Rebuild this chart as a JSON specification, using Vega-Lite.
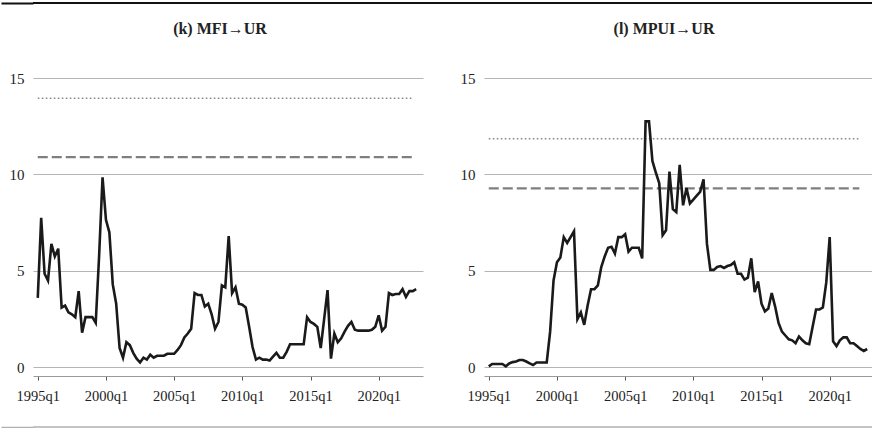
{
  "$schema": "https://vega.github.io/schema/vega-lite/v6.json",
  "background": "white",
  "padding": {"left": 0, "top": 2, "right": 0, "bottom": 0},
  "spacing": 17,
  "config": {
    "font": "Liberation Serif",
    "view": {"stroke": null},
    "title": {"font": "Liberation Serif", "fontSize": 16, "fontWeight": "bold", "color": "#222222", "anchor": "middle", "frame": "group", "baseline": "bottom", "offset": 34},
    "axisX": {"grid": false, "domainColor": "#9a9a9a", "tickColor": "#555555", "tickSize": 4, "labelFontSize": 14.5, "labelPadding": 9, "labelColor": "#222222", "labelOverlap": false, "labelFlush": false, "title": null},
    "axisY": {"grid": true, "gridColor": "#b5b5b5", "domain": false, "ticks": false, "labelPadding": 9, "labelFontSize": 15, "labelColor": "#222222", "title": null}
  },
  "datasets": {
    "series": [
      {"t":0,"k":3.6,"l":0.05},{"t":1,"k":7.75,"l":0.17},{"t":2,"k":4.85,"l":0.17},{"t":3,"k":4.5,"l":0.17},{"t":4,"k":6.4,"l":0.17},
      {"t":5,"k":5.75,"l":0.05},{"t":6,"k":6.15,"l":0.2},{"t":7,"k":3.1,"l":0.27},{"t":8,"k":3.2,"l":0.3},{"t":9,"k":2.85,"l":0.38},
      {"t":10,"k":2.75,"l":0.38},{"t":11,"k":2.6,"l":0.3},{"t":12,"k":3.95,"l":0.2},{"t":13,"k":1.8,"l":0.12},{"t":14,"k":2.6,"l":0.25},
      {"t":15,"k":2.6,"l":0.25},{"t":16,"k":2.6,"l":0.25},{"t":17,"k":2.3,"l":0.25},{"t":18,"k":5.8,"l":1.85},{"t":19,"k":9.85,"l":4.5},
      {"t":20,"k":7.65,"l":5.45},{"t":21,"k":7.0,"l":5.7},{"t":22,"k":4.3,"l":6.75},{"t":23,"k":3.3,"l":6.45},{"t":24,"k":1.0,"l":6.75},
      {"t":25,"k":0.5,"l":7.05},{"t":26,"k":1.3,"l":2.5},{"t":27,"k":1.15,"l":2.85},{"t":28,"k":0.75,"l":2.2},{"t":29,"k":0.45,"l":3.2},
      {"t":30,"k":0.25,"l":4.05},{"t":31,"k":0.5,"l":4.05},{"t":32,"k":0.4,"l":4.25},{"t":33,"k":0.65,"l":5.2},{"t":34,"k":0.5,"l":5.75},
      {"t":35,"k":0.6,"l":6.2},{"t":36,"k":0.6,"l":6.25},{"t":37,"k":0.6,"l":5.9},{"t":38,"k":0.7,"l":6.75},{"t":39,"k":0.7,"l":6.75},
      {"t":40,"k":0.7,"l":6.9},{"t":41,"k":0.9,"l":6.0},{"t":42,"k":1.15,"l":6.2},{"t":43,"k":1.55,"l":6.2},{"t":44,"k":1.75,"l":6.2},
      {"t":45,"k":2.0,"l":5.65},{"t":46,"k":3.85,"l":12.75},{"t":47,"k":3.75,"l":12.75},{"t":48,"k":3.75,"l":10.7},{"t":49,"k":3.15,"l":10.1},
      {"t":50,"k":3.3,"l":9.55},{"t":51,"k":2.75,"l":6.85},{"t":52,"k":2.0,"l":7.1},{"t":53,"k":2.35,"l":10.15},{"t":54,"k":4.25,"l":8.2},
      {"t":55,"k":4.15,"l":8.05},{"t":56,"k":6.8,"l":10.5},{"t":57,"k":3.85,"l":8.4},{"t":58,"k":4.15,"l":9.3},{"t":59,"k":3.3,"l":8.5},
      {"t":60,"k":3.25,"l":8.7},{"t":61,"k":3.1,"l":8.9},{"t":62,"k":2.1,"l":9.1},{"t":63,"k":1.05,"l":9.75},{"t":64,"k":0.4,"l":6.4},
      {"t":65,"k":0.5,"l":5.05},{"t":66,"k":0.4,"l":5.05},{"t":67,"k":0.4,"l":5.2},{"t":68,"k":0.35,"l":5.25},{"t":69,"k":0.55,"l":5.15},
      {"t":70,"k":0.75,"l":5.25},{"t":71,"k":0.5,"l":5.3},{"t":72,"k":0.5,"l":5.45},{"t":73,"k":0.8,"l":4.85},{"t":74,"k":1.2,"l":4.85},
      {"t":75,"k":1.2,"l":4.55},{"t":76,"k":1.2,"l":4.65},{"t":77,"k":1.2,"l":5.65},{"t":78,"k":1.2,"l":3.9},{"t":79,"k":2.6,"l":4.45},
      {"t":80,"k":2.35,"l":3.3},{"t":81,"k":2.25,"l":2.9},{"t":82,"k":2.1,"l":3.05},{"t":83,"k":1.0,"l":3.85},{"t":84,"k":2.5,"l":3.15},
      {"t":85,"k":4.0,"l":2.3},{"t":86,"k":0.45,"l":1.85},{"t":87,"k":1.75,"l":1.65},{"t":88,"k":1.3,"l":1.45},{"t":89,"k":1.5,"l":1.4},
      {"t":90,"k":1.85,"l":1.25},{"t":91,"k":2.15,"l":1.6},{"t":92,"k":2.35,"l":1.4},{"t":93,"k":1.95,"l":1.25},{"t":94,"k":1.9,"l":1.2},
      {"t":95,"k":1.9,"l":2.1},{"t":96,"k":1.9,"l":3.0},{"t":97,"k":1.9,"l":3.0},{"t":98,"k":1.95,"l":3.1},{"t":99,"k":2.1,"l":4.4},
      {"t":100,"k":2.7,"l":6.75},{"t":101,"k":1.9,"l":1.35},{"t":102,"k":2.1,"l":1.1},{"t":103,"k":3.85,"l":1.4},{"t":104,"k":3.75,"l":1.55},
      {"t":105,"k":3.8,"l":1.55},{"t":106,"k":3.8,"l":1.25},{"t":107,"k":4.05,"l":1.25},{"t":108,"k":3.65,"l":1.1},{"t":109,"k":3.95,"l":0.95},
      {"t":110,"k":3.95,"l":0.85},{"t":111,"k":4.05,"l":0.95}
    ],
    "thresholds": [
      {"panel": "k", "kind": "dotted", "value": 13.95, "start": 0, "end": 110},
      {"panel": "k", "kind": "dashed", "value": 10.9, "start": 0, "end": 110},
      {"panel": "l", "kind": "dotted", "value": 11.85, "start": 0, "end": 108.7},
      {"panel": "l", "kind": "dashed", "value": 9.28, "start": 0, "end": 108.7}
    ]
  },
  "vconcat": [
    {
      "width": 840, "height": 2,
      "data": {"values": [{"edge": 0.5}]},
      "mark": {"type": "rule", "color": "#111111", "strokeWidth": 2},
      "encoding": {
        "y": {"field": "edge", "type": "quantitative", "scale": {"domain": [0, 1]},
              "axis": {"values": [0.5], "labels": false, "domain": false, "grid": false, "ticks": true, "tickSize": 32, "tickWidth": 2, "tickColor": "#111111", "title": null}}
      }
    },
    {
      "spacing": 23,
      "vconcat": [
        {
          "spacing": 37,
          "hconcat": [
            {
              "title": {"text": "(k) MFI→UR", "dx": -8},
              "width": 390, "height": 298,
              "layer": [
                {
                  "data": {"name": "thresholds"},
                  "transform": [{"filter": "datum.panel == 'k' && datum.kind == 'dotted'"}],
                  "mark": {"type": "rule", "color": "#8a8a8a", "strokeWidth": 1.6, "strokeDash": [1.6, 2.4]},
                  "encoding": {
                    "x": {"field": "start", "type": "quantitative", "scale": {"domain": [-1.4, 113], "nice": false, "zero": false}, "axis": {"values": [0, 20, 40, 60, 80, 100], "labelExpr": "(1995 + datum.value/4) + 'q1'"}},
                    "x2": {"field": "end"},
                    "y": {"field": "value", "type": "quantitative", "scale": {"domain": [-0.45, 15], "nice": false, "zero": false}, "axis": {"values": [0, 5, 10, 15]}}
                  }
                },
                {
                  "data": {"name": "thresholds"},
                  "transform": [{"filter": "datum.panel == 'k' && datum.kind == 'dashed'"}],
                  "mark": {"type": "rule", "color": "#7f7f7f", "strokeWidth": 2.4, "strokeDash": [10, 4]},
                  "encoding": {
                    "x": {"field": "start", "type": "quantitative"},
                    "x2": {"field": "end"},
                    "y": {"field": "value", "type": "quantitative"}
                  }
                },
                {
                  "data": {"name": "series"},
                  "mark": {"type": "line", "color": "#1a1a1a", "strokeWidth": 2.6},
                  "encoding": {
                    "x": {"field": "t", "type": "quantitative"},
                    "y": {"field": "k", "type": "quantitative"}
                  }
                }
              ]
            },
            {
              "title": {"text": "(l) MPUI→UR", "dx": -15},
              "width": 390, "height": 298,
              "layer": [
                {
                  "data": {"name": "thresholds"},
                  "transform": [{"filter": "datum.panel == 'l' && datum.kind == 'dotted'"}],
                  "mark": {"type": "rule", "color": "#8a8a8a", "strokeWidth": 1.6, "strokeDash": [1.6, 2.4]},
                  "encoding": {
                    "x": {"field": "start", "type": "quantitative", "scale": {"domain": [-1.4, 113], "nice": false, "zero": false}, "axis": {"values": [0, 20, 40, 60, 80, 100], "labelExpr": "(1995 + datum.value/4) + 'q1'"}},
                    "x2": {"field": "end"},
                    "y": {"field": "value", "type": "quantitative", "scale": {"domain": [-0.45, 15], "nice": false, "zero": false}, "axis": {"values": [0, 5, 10, 15]}}
                  }
                },
                {
                  "data": {"name": "thresholds"},
                  "transform": [{"filter": "datum.panel == 'l' && datum.kind == 'dashed'"}],
                  "mark": {"type": "rule", "color": "#7f7f7f", "strokeWidth": 2.4, "strokeDash": [10, 4]},
                  "encoding": {
                    "x": {"field": "start", "type": "quantitative"},
                    "x2": {"field": "end"},
                    "y": {"field": "value", "type": "quantitative"}
                  }
                },
                {
                  "data": {"name": "series"},
                  "mark": {"type": "line", "color": "#1a1a1a", "strokeWidth": 2.6},
                  "encoding": {
                    "x": {"field": "t", "type": "quantitative"},
                    "y": {"field": "l", "type": "quantitative"}
                  }
                }
              ]
            }
          ]
        },
        {
          "width": 840, "height": 2,
          "data": {"values": [{"edge": 0.5}]},
          "mark": {"type": "rule", "color": "#b0b0b0", "strokeWidth": 1.5},
          "encoding": {
            "y": {"field": "edge", "type": "quantitative", "scale": {"domain": [0, 1]},
                  "axis": {"values": [0.5], "labels": false, "domain": false, "grid": false, "ticks": true, "tickSize": 32, "tickWidth": 1.5, "tickColor": "#b0b0b0", "title": null}}
          }
        }
      ]
    }
  ]
}
